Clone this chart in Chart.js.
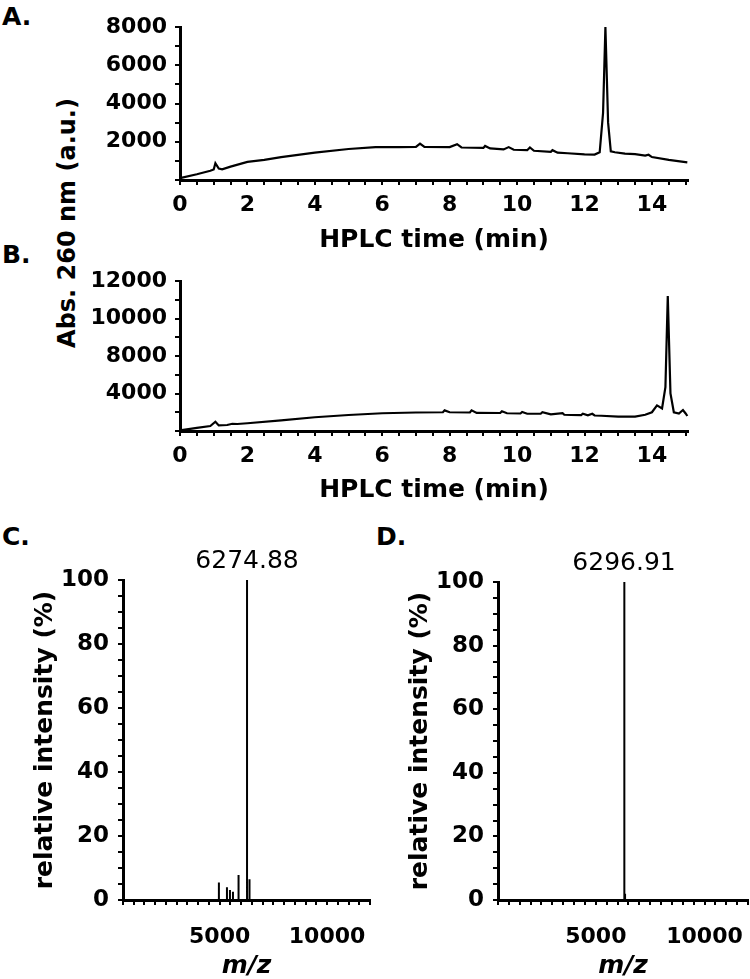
<!DOCTYPE html>
<html>
<head>
<meta charset="utf-8">
<script src="https://cdn.jsdelivr.net/npm/chart.js@4.4.1/dist/chart.umd.min.js"></script>
<style>
  html, body { margin: 0; padding: 0; background: #fff; overflow: hidden; }
  #fig { position: relative; width: 750px; height: 979px; font-family: "DejaVu Sans", sans-serif; color: #000; }
  canvas { position: absolute; }
  .letra { position: absolute; font-weight: bold; font-size: 25px; line-height: 25px; }
  #absLabel { position: absolute; left: -83px; top: 208px; width: 300px; line-height: 30px; text-align: center;
              font-weight: bold; font-size: 24px; white-space: nowrap; transform: rotate(-90deg); }
</style>
</head>
<body>
<div id="fig">
  <div class="letra" style="left:2px; top:4px;">A.</div>
  <div class="letra" style="left:2px; top:242px;">B.</div>
  <div class="letra" style="left:2px; top:524px;">C.</div>
  <div class="letra" style="left:376px; top:524px;">D.</div>
  <div id="absLabel">Abs. 260 nm (a.u.)</div>
  <canvas id="chartA" width="750" height="255" style="left:0; top:0;"></canvas>
  <canvas id="chartB" width="750" height="250" style="left:0; top:255px;"></canvas>
  <canvas id="chartC" width="375" height="459" style="left:0; top:520px;"></canvas>
  <canvas id="chartD" width="375" height="459" style="left:375px; top:520px;"></canvas>
</div>
<script>
// ==================== DATOS ====================
// A: cromatograma HPLC (min, Abs. 260 nm)
const tiempoA = [0, 0.5, 0.9, 1.0, 1.05, 1.15, 1.25, 1.5, 2.0, 2.5, 3.0, 4.0, 5.0, 5.8, 6.5, 7.0, 7.12, 7.25,
  8.0, 8.22, 8.35, 9.0, 9.05, 9.2, 9.6, 9.75, 9.9, 10.3, 10.38, 10.5, 11.0, 11.05, 11.2, 11.5, 12.0, 12.3,
  12.45, 12.55, 12.62, 12.7, 12.78, 12.9, 13.2, 13.5, 13.8, 13.9, 14.0, 14.5, 15.05];
const absA = [100, 300, 480, 550, 880, 600, 560, 700, 950, 1050, 1200, 1430, 1620, 1720, 1720, 1730, 1900, 1730,
  1720, 1870, 1700, 1680, 1780, 1650, 1600, 1720, 1580, 1560, 1700, 1530, 1470, 1560, 1430, 1400, 1340, 1330,
  1450, 3500, 8000, 3000, 1500, 1450, 1380, 1350, 1280, 1320, 1200, 1050, 920];

// B: cromatograma HPLC (valores en las unidades del eje dibujado)
const tiempoB = [0, 0.5, 0.9, 1.05, 1.15, 1.4, 1.55, 1.7, 2.0, 3.0, 4.0, 5.0, 6.0, 7.0, 7.8, 7.85, 8.0, 8.6, 8.65,
  8.8, 9.5, 9.55, 9.7, 10.1, 10.15, 10.3, 10.7, 10.75, 11.0, 11.35, 11.4, 11.6, 11.9, 11.95, 12.1, 12.23, 12.3, 12.5,
  13.0, 13.5, 13.8, 14.0, 14.15, 14.3, 14.4, 14.47, 14.55, 14.65, 14.8, 14.92, 15.0, 15.05];
const absB = [50, 250, 400, 740, 450, 480, 580, 560, 620, 850, 1100, 1280, 1420, 1480, 1500, 1650, 1500, 1480, 1650,
  1450, 1440, 1580, 1420, 1400, 1520, 1380, 1380, 1500, 1330, 1420, 1300, 1280, 1270, 1380, 1250, 1380, 1240, 1220,
  1150, 1150, 1300, 1500, 2050, 1800, 3500, 10800, 3000, 1500, 1400, 1680, 1400, 1200];

const ejeXLabelsHPLC = [0, 2, 4, 6, 8, 10, 12, 14];
const ejeYLabelsA = [2000, 4000, 6000, 8000];
const ejeYValoresB = [3000, 6000, 9000, 12000];
const ejeYTextosB = ['4000', '8000', '10000', '12000'];

// C y D: espectros de masas (m/z, intensidad relativa %)
const mzC = [4965, 5340, 5480, 5620, 5880, 6274.88, 6390];
const intC = [5.5, 4.0, 3.1, 2.6, 7.8, 100, 6.5];
const mzD = [6296.91, 6322, 6345];
const intD = [100, 3, 2];
const picoC = 6274.88;
const picoD = 6296.91;
const ejeXLabelsMS = [5000, 10000];
const ejeYLabelsMS = [0, 20, 40, 60, 80, 100];

// ==================== ESTILOS ====================
const FUENTE = '"DejaVu Sans", sans-serif';

function bordeYGrid() {
  return {
    border: { display: true, color: '#000', width: 3 },
    grid: { display: true, drawOnChartArea: false, drawTicks: true, tickLength: 5, color: '#000', lineWidth: 2 }
  };
}

function puntos(xs, ys) {
  return xs.map((x, i) => ({ x: x, y: ys[i] }));
}

// picos como barras verticales finas
function barras(xs, ys) {
  let out = [];
  xs.forEach((x, i) => { out.push({ x: x, y: 0 }, { x: x, y: ys[i] }, { x: x, y: 0 }); });
  return out;
}

const etiquetaPico = {
  id: 'etiquetaPico',
  afterDatasetsDraw(chart, args, opts) {
    const { ctx, chartArea } = chart;
    const x = chart.scales.x.getPixelForValue(opts.valor);
    ctx.save();
    ctx.font = '25px ' + FUENTE;
    ctx.fillStyle = '#000';
    ctx.textAlign = 'center';
    ctx.textBaseline = 'alphabetic';
    ctx.fillText(opts.valor.toFixed(2), x, chartArea.top - 12);
    ctx.restore();
  }
};

// ==================== HPLC ====================
function graficoHPLC(id, tiempos, valores, yMax, yStep, yLabel, padTop, altoX) {
  return new Chart(document.getElementById(id), {
    type: 'line',
    data: { datasets: [{ data: puntos(tiempos, valores), borderColor: '#000', borderWidth: 2.2, pointRadius: 0, tension: 0, clip: false }] },
    options: {
      responsive: false, animation: false,
      layout: { padding: { top: padTop, right: 62, left: 0, bottom: 0 } },
      plugins: { legend: { display: false }, tooltip: { enabled: false } },
      scales: {
        x: Object.assign({
          type: 'linear', min: 0, max: 15.07,
          afterFit: s => { s.height = altoX; s.paddingLeft = 0; s.paddingRight = 0; },
          ticks: { stepSize: 0.5, includeBounds: false, autoSkip: false, maxRotation: 0, color: '#000', padding: 7,
                   font: { family: FUENTE, size: 22, weight: 'bold' },
                   callback: v => ejeXLabelsHPLC.includes(v) ? String(v) : '' },
          title: { display: true, text: 'HPLC time (min)', color: '#000', padding: 0,
                   font: { family: FUENTE, size: 25, weight: 'bold', lineHeight: 1.2 } }
        }, bordeYGrid()),
        y: Object.assign({
          type: 'linear', min: 0, max: yMax,
          afterFit: s => { s.width = 180; },
          ticks: { stepSize: yStep, includeBounds: false, autoSkip: false, color: '#000', padding: 8,
                   font: { family: FUENTE, size: 22, weight: 'bold' },
                   callback: yLabel }
        }, bordeYGrid())
      }
    }
  });
}

// ==================== MASAS ====================
function graficoMS(id, mz, inten, pico, padTop, padRight) {
  return new Chart(document.getElementById(id), {
    type: 'line',
    data: { datasets: [{ data: barras(mz, inten), borderColor: '#000', borderWidth: 2, pointRadius: 0, tension: 0 }] },
    options: {
      responsive: false, animation: false,
      layout: { padding: { top: padTop, right: padRight, left: 0, bottom: 0 } },
      plugins: { legend: { display: false }, tooltip: { enabled: false }, etiquetaPico: { valor: pico } },
      scales: {
        x: Object.assign({
          type: 'linear', min: 500, max: 12000,
          afterFit: s => { s.height = 79; s.paddingLeft = 0; s.paddingRight = 0; },
          ticks: { stepSize: 500, includeBounds: false, autoSkip: false, maxRotation: 0, color: '#000', padding: 19,
                   font: { family: FUENTE, size: 22, weight: 'bold' },
                   callback: v => ejeXLabelsMS.includes(v) ? String(v) : '' },
          title: { display: true, text: 'm/z', color: '#000', padding: 0,
                   font: { family: FUENTE, size: 25, weight: 'bold', style: 'italic', lineHeight: 1 } }
        }, bordeYGrid()),
        y: Object.assign({
          type: 'linear', min: 0, max: 100,
          afterFit: s => { s.width = 123; },
          ticks: { stepSize: 5, includeBounds: false, autoSkip: false, color: '#000', padding: 9,
                   font: { family: FUENTE, size: 23, weight: 'bold' },
                   callback: v => ejeYLabelsMS.includes(v) ? String(v) : '' },
          title: { display: true, text: 'relative intensity (%)', color: '#000', padding: { top: 30 },
                   font: { family: FUENTE, size: 25, weight: 'bold', lineHeight: 1.2 } }
        }, bordeYGrid())
      }
    },
    plugins: [etiquetaPico]
  });
}

graficoHPLC('chartA', tiempoA, absA, 8000, 1000,
  v => ejeYLabelsA.includes(v) ? String(v) : '', 27, 75);
graficoHPLC('chartB', tiempoB, absB, 12000, 1500,
  v => { const i = ejeYValoresB.indexOf(v); return i >= 0 ? ejeYTextosB[i] : ''; }, 26, 74);
graficoMS('chartC', mzC, intC, picoC, 60, 5);
graficoMS('chartD', mzD, intD, picoD, 62, 2);
</script>
</body>
</html>
